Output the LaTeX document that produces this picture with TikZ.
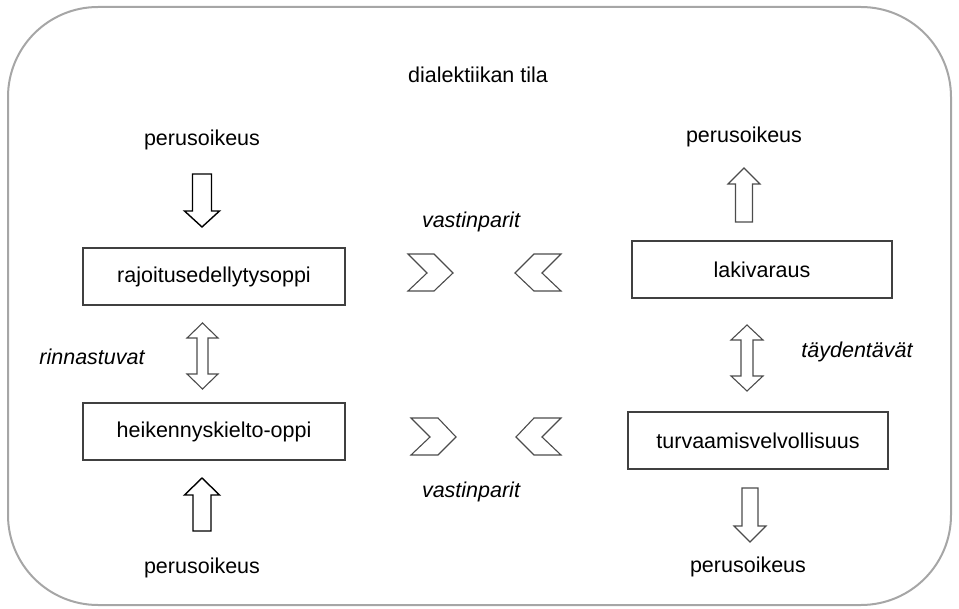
\documentclass[tikz,border=0pt]{standalone}
\usepackage{fontspec}
\setmainfont{Liberation Sans}
\begin{document}
\begin{tikzpicture}[x=1pt,y=-1pt,
  lbl/.style={font=\fontsize{21.5}{25}\selectfont, inner sep=0pt, anchor=center},
  ilbl/.style={lbl, font=\fontsize{21.5}{25}\selectfont\itshape},
  boxs/.style={draw=black!75, line width=1.3pt, fill=white},
  blk/.style={draw=black, line width=1.4pt, line join=miter, fill=white},
  gry/.style={draw=black!70, line width=1.1pt, line join=miter, fill=white}]
\useasboundingbox (0,0) rectangle (959,609);
\draw[draw=black!35, line width=2pt, rounded corners=90pt] (8,7) rectangle (951,605);

% boxes
\draw[boxs] (83,248) rectangle (345,305);
\node[lbl] (b1) at (214,277) {rajoitusedellytysoppi};
\draw[boxs] (83,403) rectangle (345,460);
\node[lbl] (b2) at (214,432) {heikennyskielto-oppi};
\draw[boxs] (632,241) rectangle (892,298);
\node[lbl] (b3) at (762,270) {lakivaraus};
\draw[boxs] (628,412) rectangle (888,469);
\node[lbl] (b4) at (758,441) {turvaamisvelvollisuus};

% labels
\node[lbl] (title) at (478,75) {dialektiikan tila};
\node[lbl] (p1) at (202,140) {perusoikeus};
\node[lbl] (p2) at (202,568) {perusoikeus};
\node[lbl] (p3) at (744,137) {perusoikeus};
\node[lbl] (p4) at (748,567) {perusoikeus};
\node[ilbl] (v1) at (471,222) {vastinparit};
\node[ilbl] (v2) at (471,492) {vastinparit};
\node[ilbl] (r1) at (92,357) {rinnastuvat};
\node[ilbl] (t1) at (857,352) {täydentävät};

% block arrows
\draw[blk] (192.5,174) -- (211.5,174) -- (211.5,211) -- (219.5,211) -- (202,227) -- (184.5,211) -- (192.5,211) -- cycle;
\draw[blk] (193,531) -- (211,531) -- (211,495) -- (219.5,495) -- (202,478) -- (184.5,495) -- (193,495) -- cycle;
\draw[gry] (735.5,222) -- (752.5,222) -- (752.5,184) -- (760,184) -- (744,168) -- (728,184) -- (735.5,184) -- cycle;
\draw[gry] (742,488) -- (758,488) -- (758,526) -- (766,526) -- (750,542) -- (734,526) -- (742,526) -- cycle;

% double arrows
\draw[gry] (202.5,323) -- (218,338) -- (208,338) -- (208,374) -- (218,374) -- (202.5,389) -- (187,374) -- (197,374) -- (197,338) -- (187,338) -- cycle;
\draw[gry] (747,325) -- (763,340) -- (753,340) -- (753,376) -- (763,376) -- (747,391) -- (731,376) -- (741,376) -- (741,340) -- (731,340) -- cycle;

% chevrons
\draw[gry] (408,254) -- (434,254) -- (453,273) -- (434,291) -- (408,291) -- (427,273) -- cycle;
\draw[gry] (561,254) -- (534,254) -- (515,273) -- (534,291) -- (561,291) -- (542,273) -- cycle;
\draw[gry] (411,418) -- (438,418) -- (456,437) -- (438,455) -- (411,455) -- (430,437) -- cycle;
\draw[gry] (561,418) -- (534,418) -- (516,437) -- (534,455) -- (561,455) -- (542,437) -- cycle;
\end{tikzpicture}
\end{document}
